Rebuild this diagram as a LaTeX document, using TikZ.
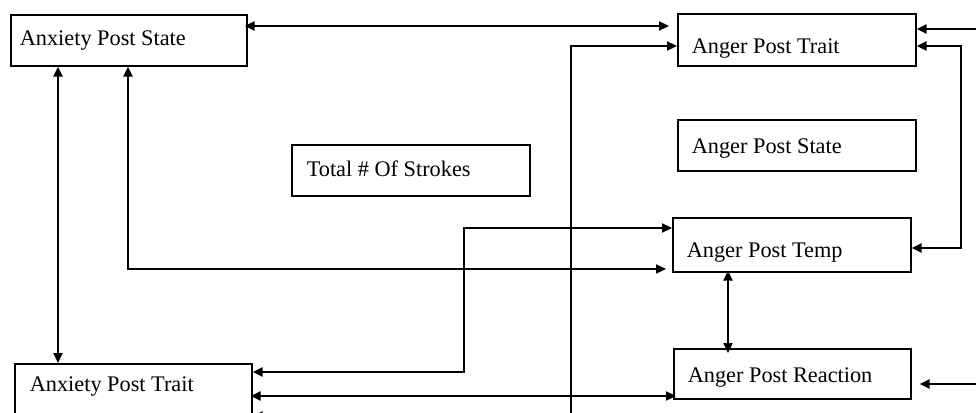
\documentclass[tikz,border=0pt]{standalone}
\usepackage{fontspec}
\setmainfont{Liberation Serif}
\usetikzlibrary{arrows.meta}
\tikzset{
  bx/.style={draw, line width=1.6pt, inner ysep=0pt, anchor=north west, align=flush left,
    font=\fontsize{22.3}{26}\selectfont},
  conn/.style={line width=2.2pt, -{Triangle[length=10pt,width=9pt]}},
  biconn/.style={line width=2.2pt, {Triangle[length=10pt,width=9pt]}-{Triangle[length=10pt,width=9pt]}}
}
\begin{document}
\begin{tikzpicture}[x=1pt,y=-1pt]
\useasboundingbox (0,0) rectangle (976,412);
\fill[white] (0,0) rectangle (976,412);
\clip (0,0) rectangle (976,412);
% boxes
\node[bx, inner xsep=9pt,  text width=218pt, text height=31pt, text depth=20pt] (aps)   at (10,14)  {Anxiety Post State};
\node[bx, inner xsep=14pt, text width=210pt, text height=40pt, text depth=12pt] (apt)   at (677,13) {Anger Post Trait};
\node[bx, inner xsep=14pt, text width=210pt, text height=34pt, text depth=17pt] (astate) at (677,119) {Anger Post State};
\node[bx, inner xsep=15pt, text width=208pt, text height=32pt, text depth=19pt] (tot)   at (291,144) {Total \# Of Strokes};
\node[bx, inner xsep=14pt, text width=210pt, text height=40pt, text depth=14pt] (atemp) at (672,217) {Anger Post Temp};
\node[bx, inner xsep=14pt, text width=209pt, text height=34pt, text depth=16pt] (areac) at (673,348) {Anger Post Reaction};
\node[bx, inner xsep=15pt, text width=207pt, text height=28pt, text depth=25pt] (axt)   at (14,363) {Anxiety Post Trait};
% free ends
\coordinate (r1) at (976,29);
\coordinate (r2) at (976,384);
\coordinate (b1) at (571,430);
\coordinate (b2) at (560,416);
% connectors
\draw[biconn, shorten <=-3pt, shorten >=8pt] ([yshift=-12pt]aps.north east) -- ([yshift=-13pt]apt.north west);
\draw[conn] (r1) -- (r1 -| apt.east);
\draw[conn] (b1) |- ([yshift=-33pt]apt.north west);
\draw[biconn] ([yshift=-33pt]apt.north east) -- ++(44pt,0) |- ([yshift=-31pt]atemp.north east);
\draw[biconn] ([xshift=48pt]aps.south west) -- ([xshift=44pt]axt.north west);
\draw[biconn, shorten >=6pt] ([xshift=118pt]aps.south west) |- ([yshift=-52pt]atemp.north west);
\draw[biconn] ([yshift=-9pt]axt.north east) -- ++(211pt,0) |- ([yshift=-11pt]atemp.north west);
\draw[biconn, shorten <=-2pt, shorten >=-3pt] ([yshift=-33pt]axt.north east) -- ([yshift=-48pt]areac.north west);
\draw[biconn, shorten <=-2pt, shorten >=-5pt] ([xshift=56pt]atemp.south west) -- ([xshift=55pt]areac.north west);
\draw[conn, shorten >=8pt] (r2) -- (r2 -| areac.east);
\draw[conn] (b2) -- (b2 -| axt.east);
\end{tikzpicture}
\end{document}
